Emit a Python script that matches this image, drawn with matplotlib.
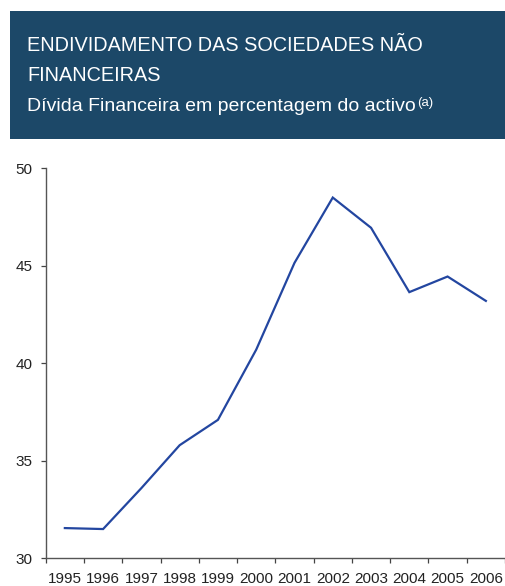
import matplotlib
matplotlib.use("Agg")
import matplotlib.pyplot as plt
from matplotlib.patches import Rectangle

# Debt of non-financial corporations, % of assets
years = ["1995", "1996", "1997", "1998", "1999", "2000",
         "2001", "2002", "2003", "2004", "2005", "2006"]
debt_pct = [31.55, 31.5, 33.6, 35.8, 37.1, 40.7,
            45.15, 48.5, 46.95, 43.65, 44.45, 43.2]
y_ticks = [30, 35, 40, 45, 50]

title_lines = ["ENDIVIDAMENTO DAS SOCIEDADES NÃO", "FINANCEIRAS"]
subtitle = "Dívida Financeira em percentagem do activo"
note_mark = "(a)"

W, H = 506, 586
plt.rcParams["font.family"] = ["Liberation Sans", "DejaVu Sans"]

fig = plt.figure(figsize=(W / 100, H / 100), dpi=100)

# Header band
header = Rectangle((10 / W, 1 - 139 / H), (W - 10) / W, 128 / H,
                   transform=fig.transFigure, facecolor="#1c4868",
                   edgecolor="none", zorder=0)
fig.patches.append(header)

tx = 27 / W
fig.text(tx, 1 - 51 / H, title_lines[0], color="white", fontsize=14.3,
         va="baseline", ha="left")
fig.text(tx, 1 - 81 / H, title_lines[1], color="white", fontsize=14.3,
         va="baseline", ha="left")
sub = fig.text(tx, 1 - 111 / H, subtitle, color="white", fontsize=14.0,
               va="baseline", ha="left")
fig.canvas.draw()
bb = sub.get_window_extent(renderer=fig.canvas.get_renderer())
fig.text((bb.x1 + 1.5) / W, 1 - 106 / H, note_mark, color="white",
         fontsize=9.5, va="baseline", ha="left")

# Chart
ax = fig.add_axes([45.7 / W, 1 - 558.3 / H, (505 - 45.7) / W, (558.3 - 168.3) / H])
x = list(range(len(years)))
ax.plot(x, debt_pct, color="#2346a0", linewidth=1.6, solid_joinstyle="miter")

ax.set_xlim(-0.5, len(years) - 0.5)
ax.set_ylim(30, 50)
ax.set_yticks(y_ticks)
ax.set_yticklabels([str(v) for v in y_ticks])

# Category labels centred, ticks on category boundaries
ax.set_xticks(x)
ax.set_xticklabels(years)
ax.set_xticks([i - 0.5 for i in range(len(years) + 1)], minor=True)
ax.tick_params(axis="x", which="major", length=0, pad=10)
ax.tick_params(axis="x", which="minor", length=3.5, width=0.9, color="#444444",
               direction="out")
ax.tick_params(axis="y", length=3.5, width=0.9, color="#444444", pad=6,
               direction="out")
ax.tick_params(labelsize=11, labelcolor="#222222")

for side in ("top", "right"):
    ax.spines[side].set_visible(False)
for side in ("left", "bottom"):
    ax.spines[side].set_color("#555555")
    ax.spines[side].set_linewidth(1.0)

fig.savefig("out.png", dpi=100)
